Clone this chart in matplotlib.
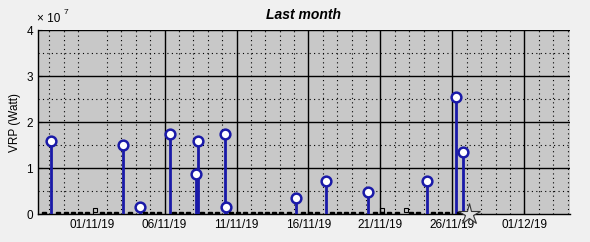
import matplotlib
matplotlib.use('Agg')
import matplotlib.pyplot as plt
import matplotlib.dates as mdates
import pandas as pd

plt.rcParams['font.family'] = ['Liberation Sans', 'DejaVu Sans']

# detections with radiative power (Watt)
hot_times = ['2019-10-29 03:00', '2019-11-03 03:00', '2019-11-04 07:00', '2019-11-06 08:40',
             '2019-11-08 04:00', '2019-11-08 07:30', '2019-11-10 04:50', '2019-11-10 06:30',
             '2019-11-15 02:40', '2019-11-17 05:00', '2019-11-20 03:00', '2019-11-24 06:00',
             '2019-11-26 05:20', '2019-11-26 17:30']
hot_vrp = [1.59e7, 1.49e7, 0.15e7, 1.73e7, 0.88e7, 1.58e7, 1.75e7, 0.15e7,
           0.34e7, 0.71e7, 0.48e7, 0.71e7, 2.54e7, 1.34e7]

# overpasses with no detection
zero_times = ['2019-10-28 15:00', '2019-10-29 15:00', '2019-10-30 03:00', '2019-10-30 15:00',
              '2019-10-31 03:00', '2019-10-31 15:00', '2019-11-01 15:00', '2019-11-02 03:00',
              '2019-11-02 15:00', '2019-11-03 15:00', '2019-11-04 15:00', '2019-11-05 03:00',
              '2019-11-05 15:00', '2019-11-06 15:00', '2019-11-07 03:00', '2019-11-07 15:00',
              '2019-11-08 15:00', '2019-11-09 03:00', '2019-11-09 15:00', '2019-11-10 15:00',
              '2019-11-11 03:00', '2019-11-11 15:00', '2019-11-12 03:00', '2019-11-12 15:00',
              '2019-11-13 03:00', '2019-11-13 15:00', '2019-11-14 03:00', '2019-11-14 15:00',
              '2019-11-15 15:00', '2019-11-16 03:00', '2019-11-16 15:00', '2019-11-17 15:00',
              '2019-11-18 03:00', '2019-11-18 15:00', '2019-11-19 03:00', '2019-11-19 15:00',
              '2019-11-20 15:00', '2019-11-21 03:00', '2019-11-21 15:00', '2019-11-22 03:00',
              '2019-11-23 03:00', '2019-11-23 15:00', '2019-11-24 15:00', '2019-11-25 03:00',
              '2019-11-25 15:00', '2019-11-26 11:00']

# low-confidence detections
low_times = ['2019-11-01 04:00', '2019-11-21 02:30', '2019-11-22 18:30']
low_vrp = [0.09e7, 0.09e7, 0.09e7]

last_time = '2019-11-27 03:30'

xticks = ['2019-11-01', '2019-11-06', '2019-11-11', '2019-11-16', '2019-11-21',
          '2019-11-26', '2019-12-01']
yticks = [0, 1e7, 2e7, 3e7, 4e7]

hot = pd.to_datetime(hot_times)
zero = pd.to_datetime(zero_times)
low = pd.to_datetime(low_times)
xt = pd.to_datetime(xticks)

fig = plt.figure(figsize=(5.9, 2.42), dpi=100, facecolor='#f0f0f0')
ax = fig.add_axes([0.0644, 0.1157, 0.9016, 0.7603])
ax.set_facecolor('#c8c8c8')

blue = '#1a1aa8'
ax.vlines(hot, 0, hot_vrp, color=blue, lw=2, zorder=3)
ax.plot(hot, hot_vrp, 'o', ms=7, mfc='white', mec=blue, mew=1.8, zorder=4)
ax.plot(zero, [0] * len(zero), 's', ms=2.6, color='black', zorder=5)
ax.plot(low, low_vrp, 's', ms=3, mfc='none', mec='black', mew=0.8, zorder=5)
ax.plot(pd.to_datetime([last_time]), [0], '*', ms=16, mfc='#e0e0e0', mec='#333333',
        mew=0.8, zorder=6, clip_on=False)

ax.set_xlim(pd.Timestamp('2019-10-28 05:00'), pd.Timestamp('2019-12-04 04:00'))
ax.set_ylim(0, 4e7)

ax.set_xticks(xt)
ax.xaxis.set_major_formatter(mdates.DateFormatter('%d/%m/%y'))
ax.xaxis.set_minor_locator(mdates.DayLocator())
ax.set_yticks(yticks)
ax.set_yticklabels(['0', '1', '2', '3', '4'])
ax.set_yticks([0.5e7, 1.5e7, 2.5e7, 3.5e7], minor=True)
ax.tick_params(which='both', direction='in', labelsize=8.5, length=3, color='black')
ax.tick_params(which='minor', length=0)

# grid: solid major, dotted minor
for d in xt[1:]:
    ax.axvline(d, color='black', lw=1, zorder=1)
for y in yticks[1:]:
    ax.axhline(y, color='black', lw=1, zorder=1)
ax.grid(which='minor', color='black', ls=(0, (1, 3)), lw=0.8, zorder=1)
ax.set_axisbelow(True)

for s in ['top', 'right']:
    ax.spines[s].set_visible(False)
ax.spines['left'].set_linewidth(1)
ax.spines['bottom'].set_linewidth(1)

ax.set_ylabel('VRP (Watt)', fontsize=8.5, labelpad=4)
ax.set_title('Last month', fontsize=10, fontweight='bold', style='italic', pad=8)
fig.text(0.063, 0.895, '× 10', fontsize=8.5, ha='left', va='bottom')
fig.text(0.108, 0.935, '7', fontsize=6, ha='left', va='bottom')

fig.savefig('out.png', dpi=100, facecolor=fig.get_facecolor())
